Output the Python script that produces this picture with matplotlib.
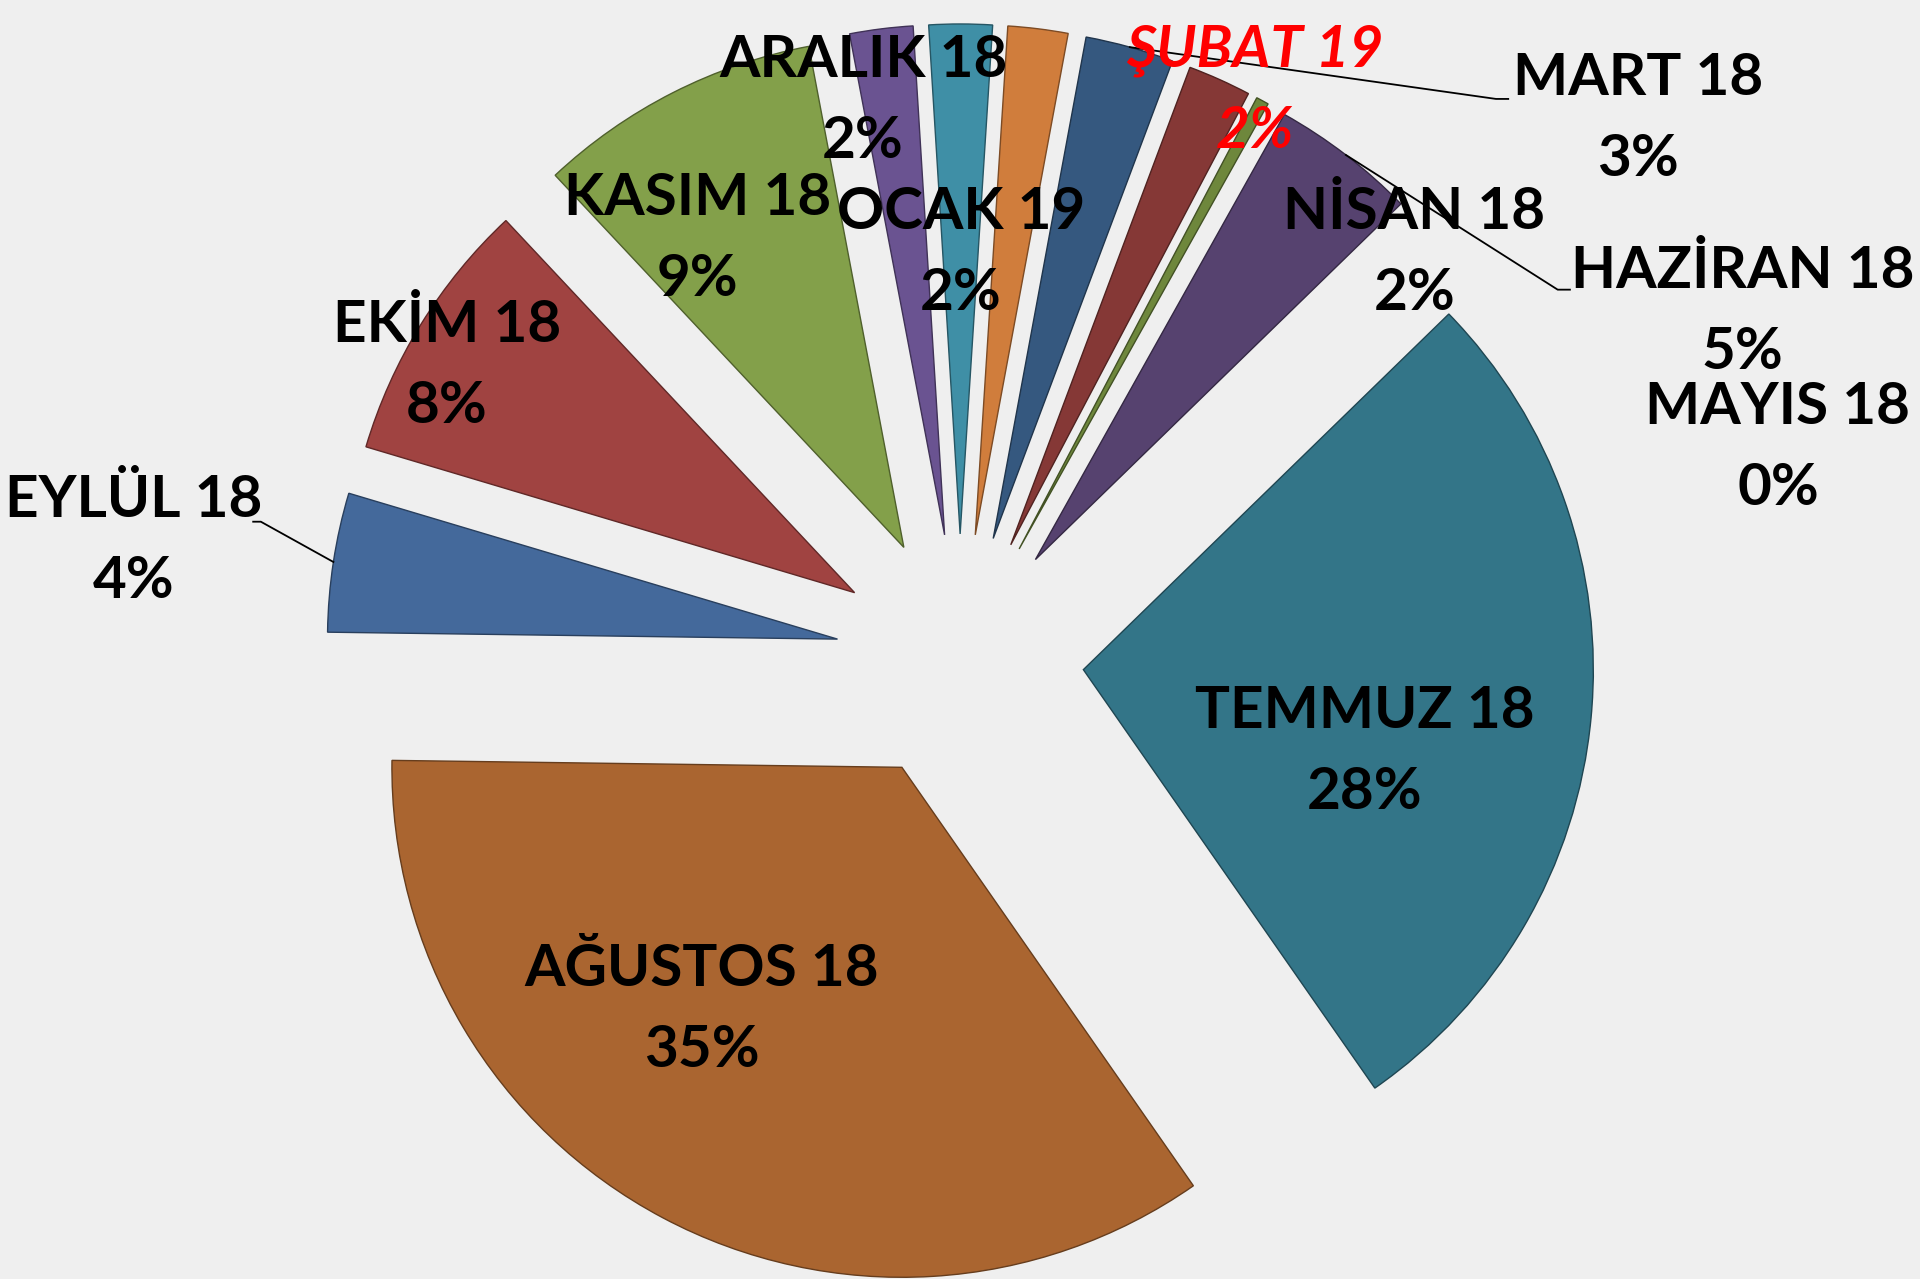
import numpy as np
import matplotlib.pyplot as plt
import matplotlib.colors as mcolors

# monthly shares (percent), clockwise from the top
months = ["MART 18", "NİSAN 18", "MAYIS 18", "HAZİRAN 18", "TEMMUZ 18", "AĞUSTOS 18",
          "EYLÜL 18", "EKİM 18", "KASIM 18", "ARALIK 18", "OCAK 19", "ŞUBAT 19"]
shares = [2.8, 2.0, 0.4, 4.6, 27.6, 34.9, 4.4, 8.4, 9.0, 2.0, 2.0, 1.9]
colors = ["#35587F", "#853836", "#6E873C", "#56426F", "#337588", "#AA6530",
          "#44699B", "#A04341", "#83A04A", "#6A5391", "#3F8FA6", "#D07D3C"]

# label block centres (data units, pie radius = 1)
label_pos = [(1.330, 1.057), (0.891, 0.793), (1.604, 0.411), (1.534, 0.678),
             (0.794, -0.184), (-0.506, -0.690), (-1.620, 0.229), (-1.006, 0.573),
             (-0.514, 0.822), (-0.190, 1.092), (0.002, 0.793), (0.579, 1.112)]
# leader lines: slice index -> (bend point, end point)
leaders = {0: ((1.051, 1.096), (1.075, 1.096)),
           3: ((1.172, 0.722), (1.196, 0.722)),
           6: ((-1.371, 0.267), (-1.386, 0.267))}

bg = "#EFEFEF"
fig = plt.figure(figsize=(19.2, 12.79), dpi=100)
fig.patch.set_facecolor(bg)
ax = fig.add_axes([0, 0, 1, 1])
ax.set_facecolor(bg)

wedges, _ = ax.pie(shares, colors=colors, startangle=79.5, counterclock=False,
                   explode=[0.243] * len(shares), radius=1.0,
                   wedgeprops=dict(linewidth=1.0))
for w, c in zip(wedges, colors):
    rgb = np.array(mcolors.to_rgb(c)) * 0.6
    w.set_edgecolor(rgb)

total = sum(shares)
for i, (name, v) in enumerate(zip(months, shares)):
    pct = "%.0f%%" % (v / total * 100)
    red = name.startswith("ŞUBAT")
    ax.text(label_pos[i][0], label_pos[i][1], name + "\n" + pct,
            ha="center", va="center", multialignment="center",
            fontsize=42, fontweight="bold", family=["Lato", "DejaVu Sans"],
            color="#FF0000" if red else "black",
            style="italic" if red else "normal", linespacing=1.65, zorder=5)

for i, (bend, end) in leaders.items():
    w = wedges[i]
    mid = np.deg2rad((w.theta1 + w.theta2) / 2)
    sx = w.center[0] + w.r * np.cos(mid)
    sy = w.center[1] + w.r * np.sin(mid)
    ax.plot([sx, bend[0], end[0]], [sy, bend[1], end[1]], color="black", lw=1.3, zorder=4)

ax.set_xlim(-1.882, 1.882)
ax.set_ylim(-1.218, 1.290)
ax.set_aspect("equal")
ax.axis("off")

fig.savefig("out.png", dpi=100, facecolor=bg)
